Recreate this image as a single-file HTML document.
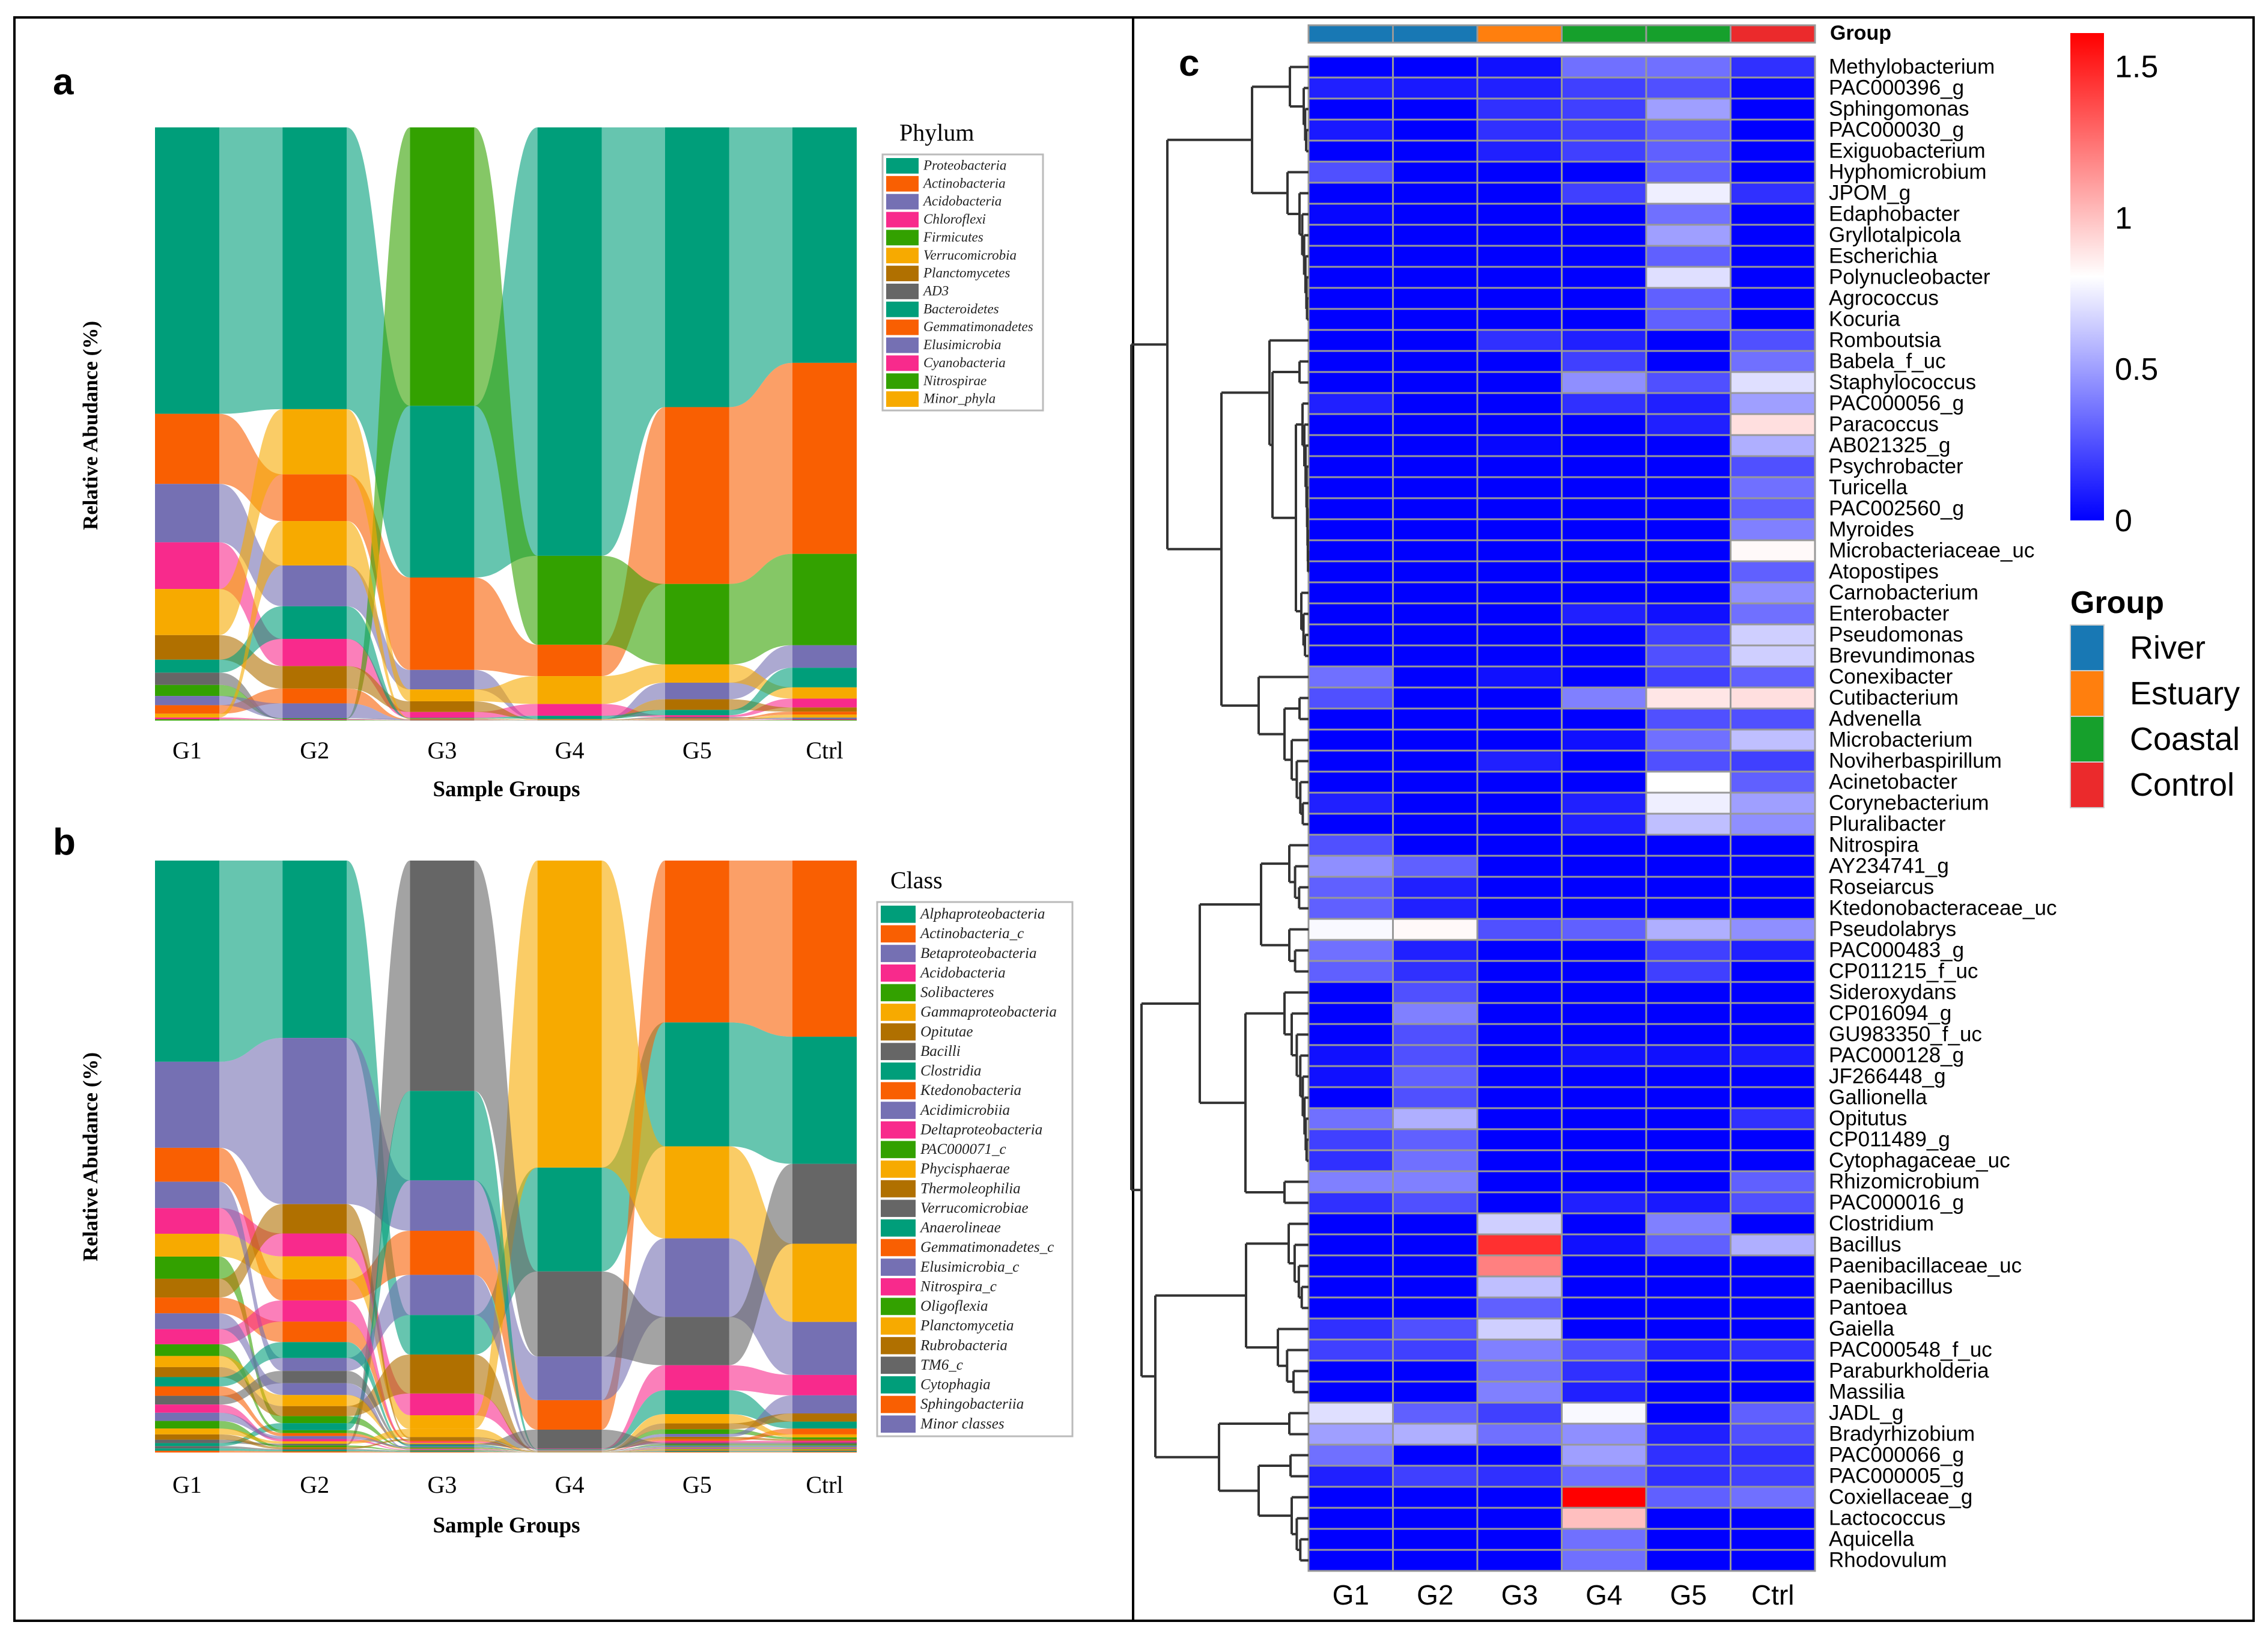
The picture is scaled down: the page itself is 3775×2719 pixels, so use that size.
<!DOCTYPE html>
<html><head><meta charset="utf-8"><style>
html,body{margin:0;padding:0;background:#fff}
svg{display:block}
</style></head><body>
<svg id="fig" xmlns="http://www.w3.org/2000/svg" width="3775" height="2719" viewBox="0 0 3775 2719">
<rect x="0" y="0" width="3775" height="2719" fill="#fff"/>
<rect x="24" y="29" width="3727" height="2668" fill="none" stroke="#000" stroke-width="4"/>
<line x1="1886" y1="29" x2="1886" y2="2697" stroke="#000" stroke-width="4"/>
<text x="88" y="157" font-family="Liberation Sans, sans-serif" font-weight="bold" font-size="62">a</text>
<text x="88" y="1422" font-family="Liberation Sans, sans-serif" font-weight="bold" font-size="62">b</text>
<text x="1962" y="126" font-family="Liberation Sans, sans-serif" font-weight="bold" font-size="62">c</text>
<g id="pa"></g>
<g id="pb"></g>
<g id="pc"></g>
</svg>
<script>
const groupLabels = ["G1","G2","G3","G4","G5","Ctrl"];
const palette = ["#009E7A","#F95F02","#7570B3","#F82A8C","#33A100","#F7AA00","#B07000","#666666"];

const phylumNames = ["Proteobacteria","Actinobacteria","Acidobacteria","Chloroflexi","Firmicutes","Verrucomicrobia","Planctomycetes","AD3","Bacteroidetes","Gemmatimonadetes","Elusimicrobia","Cyanobacteria","Nitrospirae","Minor_phyla"];
const phylumG1 = [46.6,11.4,9.5,7.6,1.8,7.5,4.0,2.0,2.1,1.4,1.5,0.3,0.2,0.6];
const phylumG2 = [47.6,7.9,6.9,4.6,0.1,11.0,3.8,0.1,5.5,2.5,2.5,0.1,0.1,7.5];
const phylumG3 = [29.0,15.6,3.3,1.0,47.0,2.0,1.8,0.05,0.1,0.05,0.05,0.05,0.05,0.1];
const phylumG4 = [72.3,5.3,0.05,2.0,15.0,4.7,0.05,0.03,0.5,0.03,0.03,0.03,0.03,0.05];
const phylumG5 = [47.3,29.9,2.8,0.3,13.6,3.1,1.8,0.2,0.9,0.1,0.1,0.05,0.05,0.1];
const phylumCtrl = [39.7,32.2,3.8,1.5,15.4,1.9,0.7,0.1,3.3,0.5,0.2,0.1,0.1,0.5];

const classNames = ["Alphaproteobacteria","Actinobacteria_c","Betaproteobacteria","Acidobacteria","Solibacteres","Gammaproteobacteria","Opitutae","Bacilli","Clostridia","Ktedonobacteria","Acidimicrobiia","Deltaproteobacteria","PAC000071_c","Phycisphaerae","Thermoleophilia","Verrucomicrobiae","Anaerolineae","Gemmatimonadetes_c","Elusimicrobia_c","Nitrospira_c","Oligoflexia","Planctomycetia","Rubrobacteria","TM6_c","Cytophagia","Sphingobacteriia","Minor classes"];
const classG1 = [34.4,5.8,14.7,4.4,3.8,3.9,3.2,0.6,0.5,2.7,4.5,2.6,2.0,1.9,1.7,1.5,1.6,1.6,2.7,1.4,1.3,1.0,0.9,0.4,0.4,0.3,1.4];
const classG2 = [30.2,3.6,28.3,3.9,1.2,3.9,5.0,0.3,1.2,3.5,2.2,3.6,0.5,1.9,1.7,2.1,2.7,0.5,2.0,0.4,0.3,0.4,0.3,0.2,0.2,0.2,0.5];
const classG3 = [6.9,7.7,8.8,3.8,0.1,2.4,0.3,40.2,15.6,0.2,7.0,0.2,0.1,0.2,6.8,0.2,0.2,0.1,0.1,0.1,0.1,1.4,0.3,0.1,0.1,0.1,0.2];
const classG4 = [17.6,5.0,7.4,0.1,0.02,52.0,0.05,14.4,0.1,0.02,0.05,0.02,0.02,0.02,0.02,3.2,0.02,0.02,0.02,0.02,0.02,0.02,0.02,0.02,0.02,0.02,0.05];
const classG5 = [21.3,27.8,13.5,4.3,0.8,15.8,0.4,8.3,4.1,0.3,0.5,0.3,0.2,1.6,1.0,0.3,0.1,0.1,0.1,0.1,0.1,0.1,0.1,0.1,0.1,0.1,0.2];
const classCtrl = [21.8,30.2,9.1,3.5,0.3,13.4,0.3,13.7,1.2,1.0,3.1,0.3,0.2,0.5,1.4,0.3,0.1,0.1,0.1,0.1,0.1,0.1,0.1,0.1,0.1,0.1,0.2];

const genusNames = ["Methylobacterium","PAC000396_g","Sphingomonas","PAC000030_g","Exiguobacterium","Hyphomicrobium","JPOM_g","Edaphobacter","Gryllotalpicola","Escherichia","Polynucleobacter","Agrococcus","Kocuria","Romboutsia","Babela_f_uc","Staphylococcus","PAC000056_g","Paracoccus","AB021325_g","Psychrobacter","Turicella","PAC002560_g","Myroides","Microbacteriaceae_uc","Atopostipes","Carnobacterium","Enterobacter","Pseudomonas","Brevundimonas","Conexibacter","Cutibacterium","Advenella","Microbacterium","Noviherbaspirillum","Acinetobacter","Corynebacterium","Pluralibacter","Nitrospira","AY234741_g","Roseiarcus","Ktedonobacteraceae_uc","Pseudolabrys","PAC000483_g","CP011215_f_uc","Sideroxydans","CP016094_g","GU983350_f_uc","PAC000128_g","JF266448_g","Gallionella","Opitutus","CP011489_g","Cytophagaceae_uc","Rhizomicrobium","PAC000016_g","Clostridium","Bacillus","Paenibacillaceae_uc","Paenibacillus","Pantoea","Gaiella","PAC000548_f_uc","Paraburkholderia","Massilia","JADL_g","Bradyrhizobium","PAC000066_g","PAC000005_g","Coxiellaceae_g","Lactococcus","Aquicella","Rhodovulum"];
const heatG1 = [0,0.1,0,0.08,0,0.25,0,0.02,0,0,0,0,0,0,0,0,0.1,0,0,0,0,0,0,0,0,0,0,0,0,0.35,0.25,0,0,0,0,0.1,0,0.25,0.45,0.3,0.3,0.78,0.35,0.3,0,0,0,0.05,0.05,0,0.35,0.2,0.15,0.4,0.15,0,0,0,0,0,0.15,0.2,0,0,0.7,0.5,0.35,0.1,0,0,0,0];
const heatG2 = [0,0.08,0,0,0,0,0,0,0,0,0,0,0,0,0,0,0,0,0,0,0,0,0,0,0,0,0,0,0,0,0,0,0,0,0,0,0,0,0.3,0.1,0.1,0.82,0.1,0.15,0.25,0.4,0.25,0.25,0.3,0.25,0.55,0.3,0.35,0.4,0.25,0,0,0,0,0,0.25,0.2,0,0,0.3,0.55,0,0.2,0,0,0,0];
const heatG3 = [0.05,0.1,0.15,0.15,0.1,0,0,0,0,0,0,0,0,0.15,0,0,0,0,0.02,0,0,0,0,0,0,0,0,0,0,0.05,0,0,0,0.1,0,0,0,0,0,0,0,0.25,0,0,0,0,0,0,0,0,0,0,0,0,0,0.65,1.45,1.2,0.6,0.3,0.65,0.4,0.35,0.4,0.2,0.35,0,0.15,0,0,0,0];
const heatG4 = [0.35,0.2,0.2,0.2,0.2,0,0.2,0,0,0,0,0,0,0.1,0.2,0.45,0.15,0,0,0,0,0,0,0,0,0,0.1,0,0,0,0.4,0,0.05,0,0,0.1,0.1,0,0,0,0,0.3,0,0,0,0,0,0.05,0,0,0,0,0,0,0.1,0,0.05,0,0,0,0,0.25,0.15,0.1,0.78,0.45,0.5,0.35,1.6,1.0,0.35,0.35];
const heatG5 = [0.35,0.25,0.5,0.3,0.3,0.3,0.75,0.35,0.5,0.3,0.7,0.3,0.3,0,0,0.25,0.1,0.1,0,0,0,0,0,0,0,0,0.05,0.2,0.25,0.2,0.88,0.25,0.35,0.25,0.8,0.75,0.6,0,0,0,0,0.55,0.2,0.2,0,0,0,0.05,0,0,0,0,0,0,0.08,0.4,0.3,0,0,0,0,0.1,0,0,0,0.1,0.15,0.15,0.3,0,0,0];
const heatCtrl = [0.15,0.02,0,0,0,0,0.15,0,0,0,0,0,0,0.25,0.35,0.7,0.5,0.9,0.55,0.25,0.35,0.3,0.4,0.82,0.3,0.45,0.35,0.65,0.65,0.3,0.9,0.25,0.6,0.2,0.3,0.5,0.45,0,0,0,0,0.45,0.1,0,0,0,0,0.08,0,0,0.15,0,0,0.3,0.25,0,0.55,0,0,0,0,0.15,0,0,0.3,0.25,0.15,0.2,0.35,0,0,0];
const colorTicks = [0,0.5,1,1.5];
const groupTypes = ["River","River","Estuary","Coastal","Coastal","Control"];
const groupTypeNames = ["River","Estuary","Coastal","Control"];

const NS = "http://www.w3.org/2000/svg";
function mk(parent, tag, attrs){
  const e = document.createElementNS(NS, tag);
  for (const k in attrs) e.setAttribute(k, attrs[k]);
  parent.appendChild(e);
  return e;
}
function mkText(parent, attrs, str){
  const e = mk(parent, "text", attrs);
  e.textContent = str;
  return e;
}

/* ---------- alluvial ---------- */
function drawAlluvial(gEl, groupsData, names, top, bottom, legend, axisY, titleY, yTitleCY, legendTitle, nameKey){
  const colX0 = 258, colPitch = 212.2, colW = 107;
  const xLeft = i => colX0 + i*colPitch;
  const H = bottom - top;
  const stacks = groupsData.map(vals => {
    const tot = vals.reduce((a,b)=>a+b,0);
    const idx = vals.map((v,i)=>i).sort((a,b)=>vals[b]-vals[a]);
    const pos = [];
    let y = top;
    idx.forEach(i => { const h = vals[i]/tot*H; pos[i] = [y, y+h]; y += h; });
    return pos;
  });
  for (let g=0; g<groupsData.length-1; g++){
    const xr = xLeft(g)+colW, xl = xLeft(g+1), xm = (xr+xl)/2;
    names.forEach((n,i)=>{
      const a = stacks[g][i], b = stacks[g+1][i];
      const p = mk(gEl, "path", {d:`M${xr},${a[0]} C${xm},${a[0]} ${xm},${b[0]} ${xl},${b[0]} L${xl},${b[1]} C${xm},${b[1]} ${xm},${a[1]} ${xr},${a[1]} Z`, fill:palette[i%8], "fill-opacity":0.6});
      
      
    });
  }
  groupsData.forEach((vals,g)=>{
    names.forEach((n,i)=>{
      const a = stacks[g][i];
      const r = mk(gEl, "rect", {x:xLeft(g), y:a[0], width:colW, height:Math.max(0,a[1]-a[0]), fill:palette[i%8]});
      
      
    });
    const t = mkText(gEl, {x:xLeft(g)+colW/2, y:axisY, "text-anchor":"middle", "font-family":"Liberation Serif, serif", "font-size":40}, groupLabels[g]);
    
    
  });
  const xt = mkText(gEl, {x:843, y:titleY, "text-anchor":"middle", "font-family":"Liberation Serif, serif", "font-weight":"bold", "font-size":37}, "Sample Groups");
  
  
  const yt = mkText(gEl, {x:0, y:0, transform:`translate(162,${yTitleCY}) rotate(-90)`, "text-anchor":"middle", "font-family":"Liberation Serif, serif", "font-weight":"bold", "font-size":35}, "Relative Abudance (%)");
  
  
  const lt = mkText(gEl, {x:legend.tx, y:legend.ty, "font-family":"Liberation Serif, serif", "font-size":legend.tfs}, legendTitle);
  
  
  const box = mk(gEl, "rect", {x:legend.x, y:legend.y, width:legend.w, height:legend.h, fill:"#fff", stroke:"#bbb", "stroke-width":3});
  
  
  const rh = (legend.h-8)/names.length;
  names.forEach((n,i)=>{
    const y = legend.y+4+i*rh;
    const sw = mk(gEl, "rect", {x:legend.x+6, y:y+2, width:legend.sw, height:rh-4, fill:palette[i%8]});
    
    
    const t = mkText(gEl, {x:legend.x+legend.sw+14, y:y+rh*0.72, "font-family":"Liberation Serif, serif", "font-style":"italic", "font-size":legend.fs, fill:"#222"}, n);
    
    
  });
}
drawAlluvial(document.getElementById("pa"), [phylumG1,phylumG2,phylumG3,phylumG4,phylumG5,phylumCtrl], phylumNames, 212, 1199,
  {x:1469,y:257,w:267,h:426,sw:54,fs:23,tx:1497,ty:234,tfs:40}, 1262, 1325, 708, "Phylum", "phylum");
drawAlluvial(document.getElementById("pb"), [classG1,classG2,classG3,classG4,classG5,classCtrl], classNames, 1432, 2417,
  {x:1460,y:1501,w:325,h:889,sw:58,fs:25,tx:1482,ty:1478,tfs:40}, 2484, 2550, 1925, "Class", "class");

/* ---------- heatmap ---------- */
const pc = document.getElementById("pc");
const hmX0 = 2178, hmColW = 140.5, hmY0 = 94, hmRowH = 35;
const hmX = c => hmX0 + c*hmColW;
const hmY = r => hmY0 + r*hmRowH;
function valColor(v){
  const m = 0.8;
  if (v <= m){ const t = Math.max(0,v)/m; const c = Math.round(255*t); return `rgb(${c},${c},255)`; }
  const t = Math.min(1,(v-m)/m); const c = Math.round(255*(1-t)); return `rgb(255,${c},${c})`;
}
const heatCols = [heatG1,heatG2,heatG3,heatG4,heatG5,heatCtrl];
const typeColors = {River:"#1878B4", Estuary:"#FF7F0E", Coastal:"#16A02C", Control:"#EB2A2C"};
groupTypes.forEach((t,c)=>{
  const r = mk(pc, "rect", {x:hmX(c), y:42, width:hmColW, height:29, fill:typeColors[t], stroke:"#999", "stroke-width":3});
  
  
});
const gl = mkText(pc, {x:3046, y:66, "font-family":"Liberation Sans, sans-serif", "font-weight":"bold", "font-size":34}, "Group");


heatCols.forEach((col,c)=>{
  col.forEach((v,r)=>{
    const e = mk(pc, "rect", {x:hmX(c), y:hmY(r), width:hmColW, height:hmRowH, fill:valColor(v), stroke:"#999", "stroke-width":3});
    
    
  });
  const t = mkText(pc, {x:hmX(c)+hmColW/2, y:2670, "text-anchor":"middle", "font-family":"Liberation Sans, sans-serif", "font-size":46}, groupLabels[c]);
  
  
});
genusNames.forEach((n,r)=>{
  const t = mkText(pc, {x:3044, y:hmY(r)+hmRowH*0.82, "font-family":"Liberation Sans, sans-serif", "font-size":35}, n);
  
  
});

const N = (h,a,b) => ({h:h, c:[a,b]});
function ladder(a,b,h){ if (a===b) return a; if (b===a+1) return N(h,a,b); return N(h, a, ladder(a+1,b,h*0.7)); }
const tree = N(295,
  N(235,
    N(94, N(31,1,ladder(2,5,8)), N(35,6,ladder(7,13,15))),
    N(145,
      N(65,14,N(60,N(15,15,16),N(21,ladder(17,25,10),ladder(26,29,12)))),
      N(83,30,N(40,N(15,31,32),ladder(33,37,28))))),
  N(278,
    N(181, N(79,ladder(38,41,32),ladder(42,44,32)), N(105,ladder(45,53,40),N(40,54,55))),
    N(255, N(104,ladder(56,60,33),ladder(61,64,51)), N(149,N(32,65,66),N(83,N(30,67,68),ladder(69,72,28))))));
const dX = h => hmX0 - h;
function dend(node){
  if (typeof node === "number") return {y: hmY0 + (node-0.5)*hmRowH, h:0};
  const a = dend(node.c[0]), b = dend(node.c[1]);
  const x = dX(node.h);
  const v = mk(pc, "line", {x1:x, y1:a.y, x2:x, y2:b.y, stroke:"#333", "stroke-width":4});
  
  
  [a,b].forEach(ch=>{
    const l = mk(pc, "line", {x1:x, y1:ch.y, x2:dX(ch.h), y2:ch.y, stroke:"#333", "stroke-width":4});
    
    
  });
  return {y:(a.y+b.y)/2, h:node.h};
}
const rootInfo = dend(tree);

const cbTop = 55, cbBot = 866, cbMax = 1.61;
const cbY = v => cbBot - v/cbMax*(cbBot-cbTop);
const defs = mk(pc, "defs", {});
const grad = mk(defs, "linearGradient", {id:"cbg", x1:0, y1:1, x2:0, y2:0});
mk(grad, "stop", {offset:"0", "stop-color":"#0000ff"});
mk(grad, "stop", {offset:"0.5", "stop-color":"#ffffff"});
mk(grad, "stop", {offset:"1", "stop-color":"#ff0000"});
const cb = mk(pc, "rect", {x:3446, y:cbTop, width:56, height:cbBot-cbTop, fill:"url(#cbg)"});


colorTicks.forEach(v=>{
  const t = mkText(pc, {x:3520, y:cbY(v)+18, "font-family":"Liberation Sans, sans-serif", "font-size":52}, String(v));
  
  
});
const glt = mkText(pc, {x:3446, y:1020, "font-family":"Liberation Sans, sans-serif", "font-weight":"bold", "font-size":52}, "Group");


groupTypeNames.forEach((n,i)=>{
  const y = 1040 + i*76;
  const s = mk(pc, "rect", {x:3446, y:y, width:56, height:76, fill:typeColors[n], stroke:"#ccc", "stroke-width":2});
  
  
  const t = mkText(pc, {x:3545, y:y+56, "font-family":"Liberation Sans, sans-serif", "font-size":54}, n);
  
  
});
</script>
</body></html>
